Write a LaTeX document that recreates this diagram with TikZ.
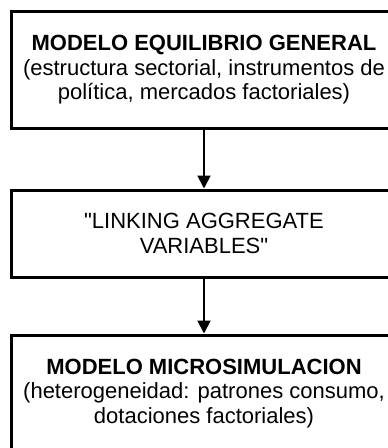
\documentclass[tikz,border=0pt]{standalone}
\usepackage{fontspec}
\setmainfont{Liberation Sans}
\usetikzlibrary{arrows.meta}
\begin{document}
\begin{tikzpicture}[x=1pt,y=-1pt,
  boxnode/.style={draw, line width=3pt, minimum width=385pt, inner sep=0pt,
    align=center, font=\fontsize{22}{24.5}\selectfont},
  conn/.style={line width=2pt, -{Triangle[length=13pt,width=13pt]}}]
\useasboundingbox (0,0) rectangle (388,448);
\node[boxnode, minimum height=116.5pt] (top) at (204,69.75)
  {\textbf{MODELO EQUILIBRIO GENERAL}\\(estructura sectorial, instrumentos de\\política, mercados factoriales)};
\node[boxnode, minimum height=87pt] (mid) at (204,233.5)
  {\textquotedbl LINKING AGGREGATE\\VARIABLES\textquotedbl};
\node[boxnode, minimum height=116.5pt] (bot) at (204,393.25)
  {\textbf{MODELO MICROSIMULACION}\\(heterogeneidad: patrones consumo,\\dotaciones factoriales)};
\draw[conn] (top) -- (mid);
\draw[conn] (mid) -- (bot);
\end{tikzpicture}
\end{document}
